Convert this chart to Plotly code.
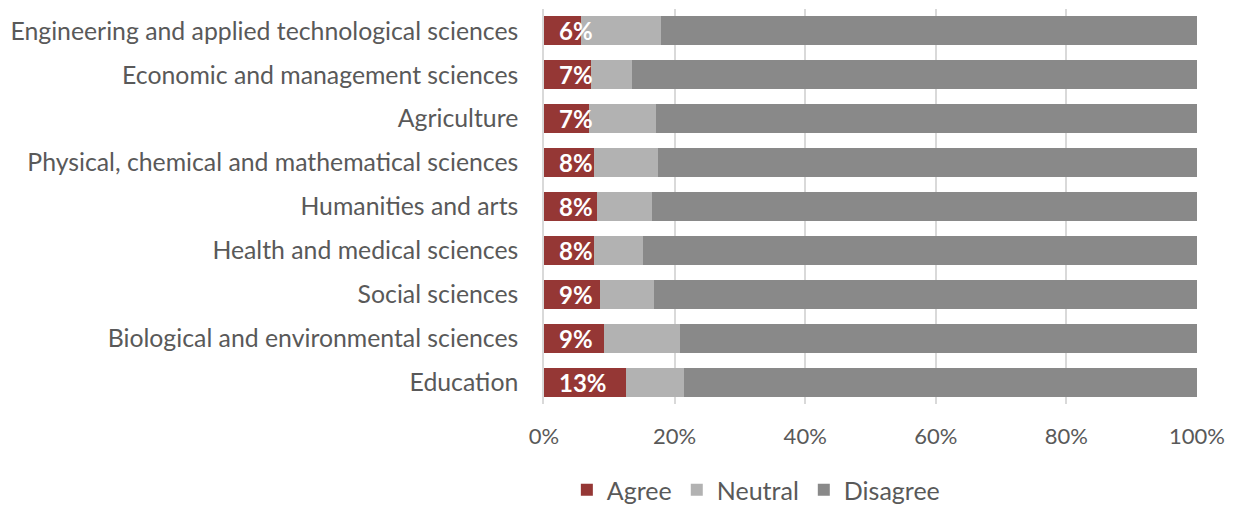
import plotly.graph_objects as go

categories = [
    "Engineering and applied technological sciences",
    "Economic and management sciences",
    "Agriculture",
    "Physical, chemical and mathematical sciences",
    "Humanities and arts",
    "Health and medical sciences",
    "Social sciences",
    "Biological and environmental sciences",
    "Education",
]
agree = [5.7, 7.2, 6.9, 7.7, 8.1, 7.7, 8.6, 9.2, 12.6]
neutral = [12.2, 6.3, 10.2, 9.7, 8.4, 7.5, 8.2, 11.6, 8.8]
disagree = [round(100 - a - n, 1) for a, n in zip(agree, neutral)]
x_ticks = [0, 20, 40, 60, 80, 100]
x_tick_labels = ["0%", "20%", "40%", "60%", "80%", "100%"]

FONT = "Lato"
GREY_TXT = "#595959"

fig = go.Figure()
fig.add_trace(go.Bar(
    y=categories, x=agree, name="Agree", orientation="h",
    marker=dict(color="#953735", line=dict(width=0)),
))
fig.add_trace(go.Bar(
    y=categories, x=neutral, name="Neutral", orientation="h",
    marker=dict(color="#b2b2b2", line=dict(width=0)),
))
fig.add_trace(go.Bar(
    y=categories, x=disagree, name="Disagree", orientation="h",
    marker=dict(color="#898989", line=dict(width=0)),
))

# data labels for Agree, drawn above all bars
for cat, a in zip(categories, agree):
    fig.add_annotation(
        x=0, y=cat, xref="x", yref="y", xanchor="left", xshift=13,
        text=f"{a:.0f}%", showarrow=False,
        font=dict(family=FONT, size=24, color="white", weight="bold"),
    )

fig.update_layout(
    width=1235, height=505,
    barmode="stack", bargap=0.34,
    margin=dict(l=536, r=46, t=1, b=108),
    paper_bgcolor="white", plot_bgcolor="white",
    font=dict(family=FONT, size=24.8, color=GREY_TXT),
    legend=dict(orientation="h", x=0.035, xanchor="left", y=-0.215, yanchor="middle",
                font=dict(size=25, color=GREY_TXT), traceorder="normal",
                itemwidth=30),
    showlegend=True,
)
fig.update_xaxes(
    range=[0, 100], tickmode="array", tickvals=x_ticks, ticktext=x_tick_labels,
    showgrid=True, gridcolor="#d9d9d9", gridwidth=1.5, automargin=False,
    zeroline=False, showline=False, ticks="", ticklabelstandoff=17,
    tickfont=dict(size=22, color=GREY_TXT),
)
fig.update_yaxes(
    autorange="reversed", showgrid=False, showline=True, linecolor="#d9d9d9",
    linewidth=1.5, ticks="", ticklabelstandoff=19, automargin=False,
    tickfont=dict(size=24.8, color=GREY_TXT),
)

fig.write_html("out.html")
